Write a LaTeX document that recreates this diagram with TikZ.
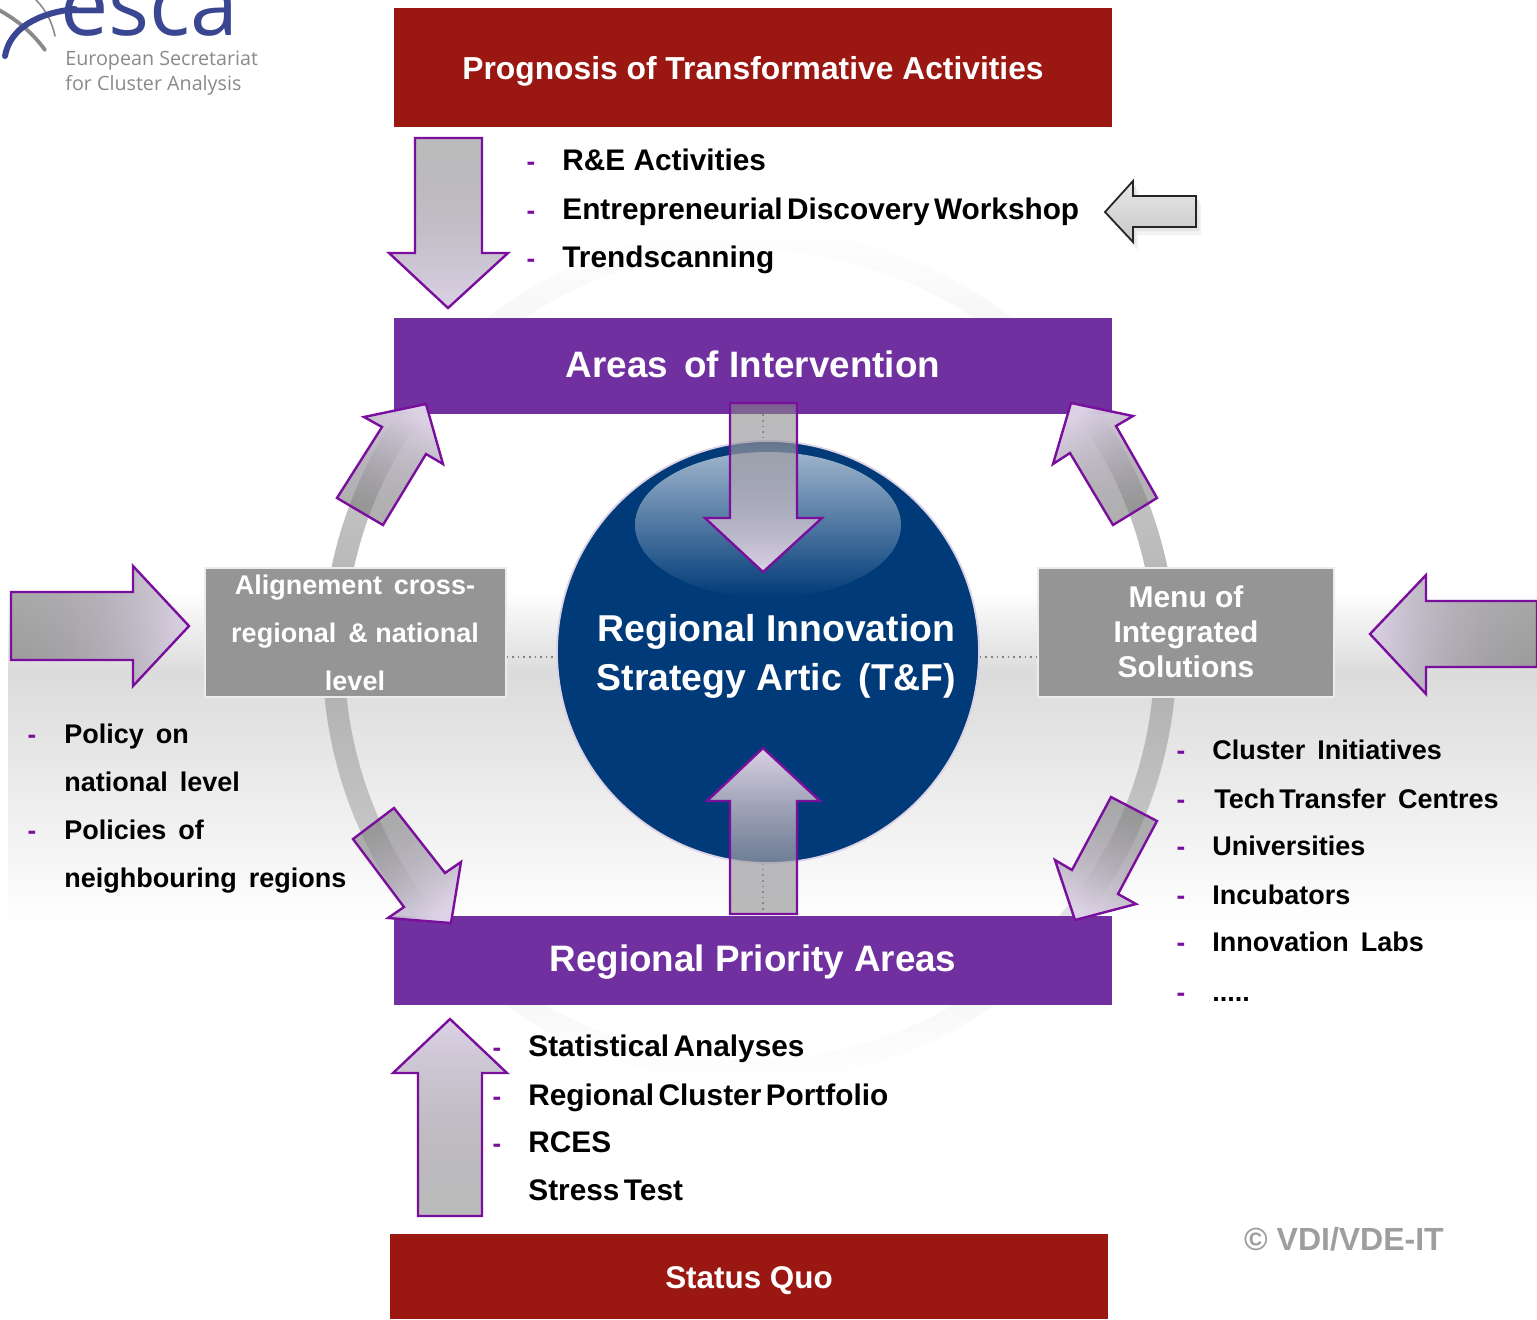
\documentclass[tikz,border=0pt]{standalone}
\usepackage{fontspec}
\setmainfont{Liberation Sans}
\newfontfamily\logofont{Open Sans}
\usetikzlibrary{fadings}
\definecolor{redbar}{HTML}{9B1712}
\definecolor{purbar}{HTML}{7030A0}
\definecolor{arrowline}{HTML}{7A0F9E}
\definecolor{lav}{HTML}{DCD2E6}
\definecolor{gbox}{HTML}{959595}
\definecolor{navy}{HTML}{003A78}
\definecolor{logoblue}{HTML}{3B4693}
\definecolor{logogray}{HTML}{8A8A8A}
\newcommand\tw{\hspace{.15em}}
\newcommand\barlabel[1]{\raisebox{-5.8pt}[0pt][0pt]{#1}}
\tikzfading[name=tipfade,top color=transparent!0,bottom color=transparent!45]
\pgfdeclareverticalshading{ringshade}{100bp}{color(0bp)=(white); color(25bp)=(white); color(30bp)=(black!3); color(35bp)=(black!11); color(40bp)=(black!23); color(50bp)=(black!32); color(60bp)=(black!23); color(65bp)=(black!11); color(70bp)=(black!3); color(75bp)=(white); color(100bp)=(white)}
\newcommand\barrow[2]{\shade[#1] #2; \draw[blockline] #2;}
\tikzset{
  barbox/.style={minimum width=359pt,inner sep=0pt,text=white,font=\bfseries\fontsize{15.9}{20}\selectfont,align=center},
  barbig/.style={barbox,font=\bfseries\fontsize{18.4}{22}\selectfont},
  graybox/.style={fill=gbox,draw=white!85!gray,line width=.6pt,inner sep=0pt},
  boxtext/.style={inner sep=0pt,text=white,align=center},
  blockline/.style={draw=arrowline,line width=1.2pt,line join=miter},
  item/.style={anchor=base west,inner sep=0pt,font=\bfseries\fontsize{14.9}{18}\selectfont,text=black},
  itemb/.style={anchor=base west,inner sep=0pt,font=\bfseries\fontsize{13.5}{18}\selectfont,text=black},
  dashmark/.style={anchor=base,inner sep=0pt,font=\bfseries\fontsize{13}{16}\selectfont,text=arrowline},
  dotline/.style={draw=black!50,dotted,line width=.8pt},
  logotext/.style={inner sep=0pt,anchor=west,text=logogray,font=\logofont\fontsize{9.85}{12}\selectfont},
}
\begin{document}
\begin{tikzpicture}[x=0.5pt,y=-0.5pt]
\useasboundingbox (0,0) rectangle (1537,1319);
% background band
\fill[white] (0,0) rectangle (1537,1319);
\shade[top color=white,bottom color=black!14] (8,590) rectangle (1537,672);
\shade[top color=black!14,bottom color=white] (8,672) rectangle (1537,925);
% ring
\shade[even odd rule,shading=ringshade]
 (749.5,655) circle[radius=427] (749.5,655) circle[radius=405];
% bars
\node[barbox,fill=redbar,minimum height=59.5pt] (prog) at (753,67.5) {\barlabel{Prognosis of Transformative Activities}};
\node[barbig,fill=purbar,minimum height=48pt] (areas) at (753,366) {\barlabel{Areas\, of Intervention}};
\node[barbig,fill=purbar,minimum height=44.5pt] (prio) at (753,960) {\barlabel{Regional Priority Areas}};
\node[barbox,fill=redbar,minimum height=42.5pt,font=\bfseries\fontsize{15.7}{20}\selectfont] (status) at (749,1276.5) {\barlabel{Status Quo}};
% grey boxes
\node[graybox,minimum width=150.5pt,minimum height=64.5pt] (lbox) at (355.5,632.5) {};
\node[graybox,minimum width=148pt,minimum height=64.5pt] (rbox) at (1186,632.5) {};
\node[boxtext,font=\bfseries\fontsize{13.5}{24}\selectfont] (ltext) at (355,633) {Alignement\, cross-\\regional\, \& national\\level};
\node[boxtext,font=\bfseries\fontsize{15}{17.6}\selectfont] (rtext) at (1186,632) {Menu of\\Integrated\\Solutions};
% dotted links and circle
\coordinate (lev) at (0,657);
\coordinate (cdot) at (763,0);
\node[circle,minimum size=211pt,inner sep=0pt] (hub) at (768,652) {};
\draw[dotline] (lbox.east |- lev) -- (hub.west |- lev);
\draw[dotline] (rbox.west |- lev) -- (hub.east |- lev);
\draw[dotline] (areas.south -| cdot) -- (hub.north -| cdot);
\draw[dotline] (prio.north -| cdot) -- (hub.south -| cdot);
\fill[navy,draw=lav,line width=.9pt] (hub.center) circle[radius=211];
\shade[top color=white!62!navy,bottom color=navy] (768,525) ellipse[x radius=133,y radius=73];
\node[boxtext,font=\bfseries\fontsize{18.7}{24.5}\selectfont] (hubtext) at (776.5,656) {Regional Innovation\\Strategy Artic\, (T\&F)};
% block arrows
\barrow{top color=black!48,bottom color=lav,path fading=tipfade,fading angle=180}{(415,138) -- (482,138) -- (482,253) -- (508,253) -- (448,308) -- (389,253) -- (415,253) -- cycle}
\barrow{top color=black!48,bottom color=lav,path fading=tipfade,fading angle=180}{(730,403) -- (797,403) -- (797,518) -- (822,518) -- (763,572) -- (705,518) -- (730,518) -- cycle}
\barrow{top color=lav,bottom color=black!48,path fading=tipfade}{(763,748) -- (820,801) -- (797,801) -- (797,914) -- (730,914) -- (730,801) -- (707,801) -- cycle}
\barrow{top color=lav,bottom color=black!48,path fading=tipfade}{(450,1019) -- (507,1073) -- (482,1073) -- (482,1216) -- (418,1216) -- (418,1073) -- (393,1073) -- cycle}
\barrow{left color=black!60,right color=lav,path fading=tipfade,fading angle=-90}{(11,592) -- (133,592) -- (133,566) -- (189,626) -- (133,686) -- (133,660) -- (11,660) -- cycle}
\barrow{left color=lav,right color=black!60,path fading=tipfade,fading angle=90}{(1370,634) -- (1426,575) -- (1426,601) -- (1537,601) -- (1537,667) -- (1426,667) -- (1426,694) -- cycle}
\barrow{top color=lav,bottom color=black!55,shading angle=30,path fading=tipfade,fading angle=30}{(1071,403) -- (1133,416) -- (1116,426) -- (1157,498) -- (1113,525) -- (1070,453) -- (1053,464) -- cycle}
\barrow{top color=lav,bottom color=black!55,shading angle=-30,path fading=tipfade,fading angle=-30}{(426,404) -- (443,464) -- (426,454) -- (383,525) -- (337,498) -- (382,427) -- (364,417) -- cycle}
\barrow{top color=black!55,bottom color=lav,shading angle=-28,path fading=tipfade,fading angle=152}{(1111,797) -- (1157,821) -- (1118,894) -- (1136,904) -- (1075,920) -- (1055,860) -- (1072,870) -- cycle}
\barrow{top color=black!55,bottom color=lav,shading angle=40,path fading=tipfade,fading angle=220}{(394,808) -- (445,873) -- (461,862) -- (451,923) -- (388,918) -- (404,907) -- (353,839) -- cycle}
% small arrow
\fill[black!5] (1110,220) -- (1138,189) -- (1138,204) -- (1201,204) -- (1201,235) -- (1138,235) -- (1138,250) -- cycle;
\fill[black!10] (1108,216) -- (1136,185) -- (1136,200) -- (1199,200) -- (1199,231) -- (1136,231) -- (1136,246) -- cycle;
\shade[draw=black!85,line width=.9pt,top color=black!9,bottom color=black!22] (1105,212) -- (1133,181) -- (1133,196) -- (1196,196) -- (1196,227) -- (1133,227) -- (1133,242) -- cycle;
% top list
\node[item] (t1) at (562,170) {R\&E Activities};
\node[dashmark] (t1d) at (531,170) {-};
\node[item] (t2) at (562,219) {Entrepreneurial\tw Discovery\tw Workshop};
\node[dashmark] (t2d) at (531,219) {-};
\node[item] (t3) at (562,267) {Trendscanning};
\node[dashmark] (t3d) at (531,267) {-};
% bottom list
\node[item] (b1) at (528,1056) {Statistical\tw Analyses};
\node[dashmark] (b1d) at (497,1056) {-};
\node[item] (b2) at (528,1105) {Regional\tw Cluster\tw Portfolio};
\node[dashmark] (b2d) at (497,1105) {-};
\node[item] (b3) at (528,1152) {RCES};
\node[dashmark] (b3d) at (497,1152) {-};
\node[item] (b4) at (528,1200) {Stress\tw Test};
% left list
\node[itemb] (l1) at (64,743) {Policy\, on};
\node[itemb] (l2) at (64,791) {national\, level};
\node[itemb] (l3) at (64,839) {Policies\, of};
\node[itemb] (l4) at (64,887) {neighbouring\, regions};
\node[dashmark] (l1d) at (32,743) {-};
\node[dashmark] (l3d) at (32,839) {-};
% right list
\node[itemb] (r1) at (1212,759) {Cluster\, Initiatives};
\node[itemb] (r2) at (1214,808) {Tech\tw Transfer\, Centres};
\node[itemb] (r3) at (1212,855) {Universities};
\node[itemb] (r4) at (1212,904) {Incubators};
\node[itemb] (r5) at (1212,951) {Innovation\, Labs};
\node[itemb] (r6) at (1212,1001) {{.}{.}{.}{.}{.}};
\node[dashmark] (r1d) at (1181,759) {-};
\node[dashmark] (r2d) at (1181,808) {-};
\node[dashmark] (r3d) at (1181,855) {-};
\node[dashmark] (r4d) at (1181,904) {-};
\node[dashmark] (r5d) at (1181,951) {-};
\node[dashmark] (r6d) at (1181,1001) {-};
% copyright
\node[inner sep=0pt,text=black!38,font=\bfseries\fontsize{16}{20}\selectfont] (copy) at (1344,1239) {© VDI/VDE-IT};
% logo
\begin{scope}
\clip (0,0) rectangle (300,110);
\draw[logogray,line width=1.9pt,line cap=round] (-5,8) .. controls (15,18) and (32,32) .. (45,50);
\draw[logogray,line width=.8pt,line cap=round] (36,0) .. controls (46,10) and (52,22) .. (55,36);
\draw[logoblue,line width=3pt,line cap=round] (5,56) .. controls (10,28) and (38,13) .. (75,9);
\node[inner sep=0pt,anchor=base west,text=logoblue,font=\logofont\fontsize{43}{43}\selectfont] (esca) at (60,35) {esca};
\end{scope}
\node[logotext] (logo1) at (65,61) {European Secretariat};
\node[logotext] (logo2) at (65,85) {for Cluster Analysis};
\end{tikzpicture}
\end{document}
